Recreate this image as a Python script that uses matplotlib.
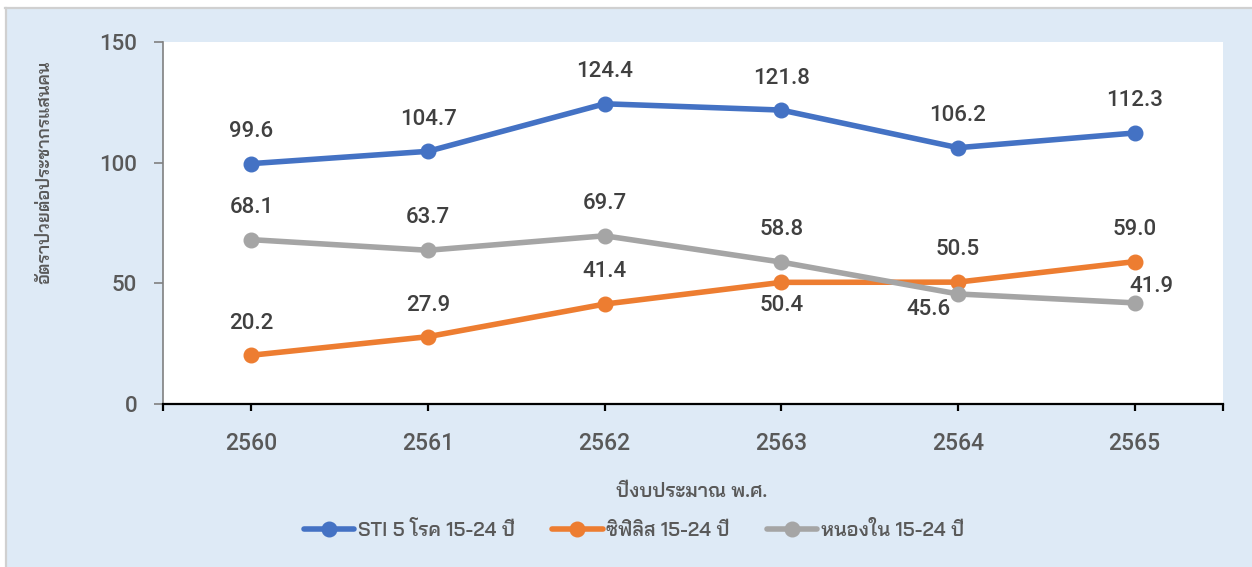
import matplotlib
matplotlib.use("Agg")
import matplotlib.pyplot as plt
from matplotlib.patches import Rectangle
from matplotlib.lines import Line2D

years = ["2560", "2561", "2562", "2563", "2564", "2565"]
sti = [99.6, 104.7, 124.4, 121.8, 106.2, 112.3]
syphilis = [20.2, 27.9, 41.4, 50.4, 50.5, 59.0]
gonorrhea = [68.1, 63.7, 69.7, 58.8, 45.6, 41.9]
series_names = ["STI 5 โรค 15-24 ปี", "ซิฟิลิส 15-24 ปี", "หนองใน 15-24 ปี"]

num_font = ["Roboto", "DejaVu Sans"]
thai_font = ["Bai Jamjuree", "Noto Sans Thai", "DejaVu Sans"]
plt.rcParams["font.family"] = num_font

bg = "#DEEAF6"
W, H = 1252, 567
fig = plt.figure(figsize=(W / 100, H / 100), dpi=100, facecolor="white")

# blue panel with a thin grey edge on top and left
fig.patches.append(Rectangle((7 / W, 0), 1, 1 - 9 / H, transform=fig.transFigure,
                             facecolor=bg, edgecolor="none", zorder=-10))
fig.lines.append(Line2D([5 / W, 1], [1 - 8 / H, 1 - 8 / H], transform=fig.transFigure,
                        color="#D0D0D0", lw=1.6))
fig.lines.append(Line2D([6 / W, 6 / W], [0, 1 - 8 / H], transform=fig.transFigure,
                        color="#D0D0D0", lw=1.6))

ax = fig.add_axes([163 / W, 1 - 404 / H, 1060 / W, 362 / H])
ax.set_facecolor("white")

x = list(range(len(years)))
colors = ["#4472C4", "#ED7D31", "#A5A5A5"]
for vals, name, c in zip([sti, syphilis, gonorrhea], series_names, colors):
    ax.plot(x, vals, color=c, lw=4, marker="o", ms=10.5, label=name,
            solid_capstyle="round", solid_joinstyle="round")

ax.set_xlim(-0.5, 5.5)
ax.set_ylim(0, 150)
ax.set_yticks([0, 50, 100, 150])
ax.set_xticks(x)
ax.set_xticklabels(years)
ax.set_xticks([-0.5, 5.5], minor=True)
ax.tick_params(axis="x", which="both", length=5, width=1.6, color="black", pad=15,
               labelsize=16.5, labelcolor="#595959")
ax.tick_params(axis="y", length=6.5, width=1.2, color="#808080", pad=12,
               labelsize=16, labelcolor="#595959")
for lab in ax.get_xticklabels() + ax.get_yticklabels():
    lab.set_fontweight("medium")
for s in ["top", "right"]:
    ax.spines[s].set_visible(False)
ax.spines["left"].set_color("#808080")
ax.spines["left"].set_linewidth(1.2)
ax.spines["bottom"].set_color("black")
ax.spines["bottom"].set_linewidth(1.6)

# label offsets in pixels (dx, dy)
offsets = {
    0: [(0, 32)] * 6,
    1: [(0, 32), (0, 31), (0, 33), (0, -23), (0, 33), (0, 32)],
    2: [(0, 32), (0, 33), (0, 32), (0, 33), (-30, -16), (17, 16)],
}
for i, vals in enumerate([sti, syphilis, gonorrhea]):
    for j, v in enumerate(vals):
        dx, dy = offsets[i][j]
        ax.annotate(f"{v:.1f}", (j, v), xytext=(dx, dy), textcoords="offset pixels",
                    ha="center", va="center", fontsize=16, color="#404040",
                    fontweight="medium")

fig.text(45 / W, 1 - 172 / H, "อัตราป่วยต่อประชากรแสนคน", rotation=90, ha="center", va="center",
         fontsize=12.8, color="#595959", family=thai_font, fontweight="semibold")
fig.text(692 / W, 1 - 492 / H, "ปีงบประมาณ พ.ศ.", ha="center", va="center", fontsize=14,
         color="#595959", family=thai_font, fontweight="semibold")
leg = fig.legend(loc="center", bbox_to_anchor=(634 / W, 1 - 530 / H), ncol=3, frameon=False,
                 prop={"family": thai_font, "size": 14, "weight": "semibold"},
                 labelcolor="#595959", handlelength=2.6, columnspacing=1.9, handletextpad=0.2)

fig.savefig("out.png", dpi=100, facecolor="white")
